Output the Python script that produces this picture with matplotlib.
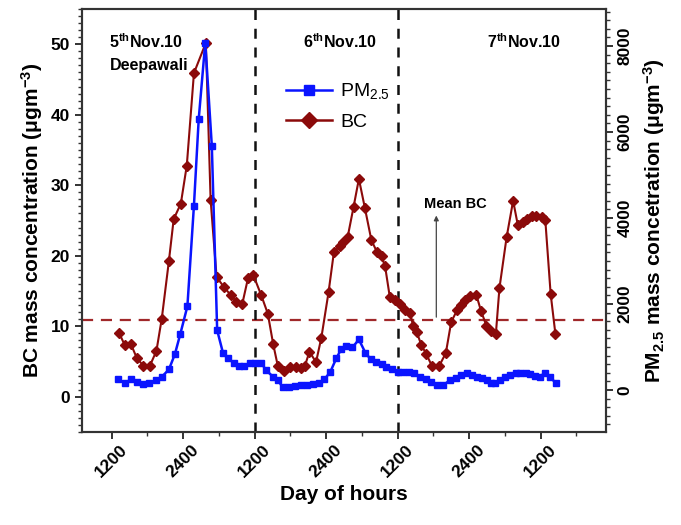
import matplotlib
matplotlib.use("Agg")
import matplotlib.pyplot as plt
from matplotlib.ticker import MultipleLocator, FixedLocator
from matplotlib.lines import Line2D

plt.rcParams['font.family'] = ['Liberation Sans', 'DejaVu Sans']
plt.rcParams['mathtext.fontset'] = 'custom'
plt.rcParams['mathtext.rm'] = 'Liberation Sans'
plt.rcParams['mathtext.bf'] = 'Liberation Sans:bold'
plt.rcParams['mathtext.it'] = 'Liberation Sans:italic'

# ---- data (hours from start of axis; BC in ug/m3; PM2.5 in ug/m3) ----
bc_hours = [13.2, 14.2, 15.2, 16.2, 17.3, 18.4, 19.5, 20.4, 21.6, 22.4, 23.6, 24.6, 25.8, 27.8,
            28.6, 29.6, 30.8, 32.0, 32.9, 33.9, 34.9, 35.8, 37.1, 38.2, 39.1, 39.9, 40.9, 41.9,
            42.9, 43.8, 44.4, 45.2, 46.3, 47.2, 48.4, 49.3, 50.3, 50.8, 51.6, 52.6, 53.5, 54.5,
            55.6, 56.5, 57.3, 57.9, 58.7, 59.6, 60.4, 61.2, 62.1, 62.6, 63.2, 64.0, 64.8, 65.8,
            67.0, 68.1, 69.0, 70.0, 70.7, 71.4, 72.2, 73.2, 74.0, 74.9, 75.7, 76.5, 77.1, 78.3,
            79.4, 80.2, 81.0, 81.7, 82.5, 83.3, 84.2, 84.8, 85.7, 86.5]
bc_values = [9.1, 7.3, 7.5, 5.5, 4.4, 4.4, 6.5, 11.1, 19.3, 25.2, 27.4, 32.8, 45.9, 50.2,
             27.9, 17.0, 15.6, 14.4, 13.5, 13.1, 16.9, 17.2, 14.4, 11.8, 7.5, 4.3, 3.6, 4.2,
             4.2, 4.1, 4.3, 6.4, 4.9, 8.4, 14.8, 20.5, 21.4, 21.9, 22.6, 26.9, 30.9, 26.8,
             22.2, 20.6, 19.9, 18.5, 14.1, 13.7, 13.1, 12.3, 11.9, 10.1, 9.2, 7.3, 6.1, 4.3,
             4.4, 6.2, 10.6, 12.3, 13.0, 13.7, 14.3, 14.5, 12.2, 10.1, 9.3, 8.9, 15.4, 22.6,
             27.8, 24.3, 24.8, 25.2, 25.6, 25.7, 25.5, 25.1, 14.6, 8.9]

pm_hours = [13.1, 14.2, 15.3, 16.3, 17.3, 18.3, 19.4, 20.4, 21.6, 22.6, 23.5, 24.7, 25.8, 26.6,
            27.7, 28.8, 29.7, 30.7, 31.5, 32.5, 33.4, 34.2, 35.2, 36.1, 37.1, 37.9, 39.1, 39.9,
            40.7, 41.7, 42.7, 43.8, 44.8, 45.8, 46.8, 47.7, 48.7, 49.7, 50.5, 51.4, 52.4, 53.5,
            54.6, 55.5, 56.4, 57.3, 58.1, 59.0, 60.0, 60.9, 61.9, 62.7, 63.7, 64.7, 65.6, 66.7,
            67.7, 68.8, 69.8, 70.7, 71.6, 72.5, 73.3, 74.2, 75.0, 75.7, 76.4, 77.2, 78.1, 78.9,
            79.8, 80.6, 81.5, 82.3, 83.1, 83.9, 84.7, 85.6, 86.6]
pm_values = [248, 169, 248, 192, 139, 169, 232, 308, 480, 835, 1299, 1948, 4290, 6300,
             8077, 5682, 1391, 851, 735, 633, 557, 557, 619, 633, 633, 464, 308, 232,
             63, 63, 93, 116, 116, 139, 155, 248, 424, 735, 944, 1020, 990, 1176,
             865, 712, 656, 603, 540, 480, 424, 424, 424, 387, 308, 248, 192, 116,
             116, 232, 271, 348, 387, 348, 308, 271, 232, 169, 155, 232, 308, 348,
             401, 401, 387, 371, 325, 308, 401, 308, 155]

mean_bc = 10.9
day_lines = [36, 60]
xtick_pos = [12, 24, 36, 48, 60, 72, 84]
xtick_labels = ['1200', '2400', '1200', '2400', '1200', '2400', '1200']

BC_COLOR = '#8B0A0A'
PM_COLOR = '#0A14FF'
SPINE = '#333333'

fig = plt.figure(figsize=(6.81, 5.25), dpi=100)
ax = fig.add_axes([0.1204, 0.1771, 0.7695, 0.8058])
ax2 = ax.twinx()

ax.set_xlim(7, 95)
ax.set_ylim(-5, 55)
ax2.set_ylim(-975, 8860)

ax.axhline(mean_bc, color='#A0282A', lw=1.6, ls=(0, (5, 3.5)), zorder=1)
for d in day_lines:
    ax.axvline(d, color='#111111', lw=1.8, ls=(0, (4, 3.5)), zorder=1)

ax.plot(bc_hours, bc_values, color=BC_COLOR, lw=1.5, marker='D', ms=5.5,
        mec=BC_COLOR, mfc=BC_COLOR, zorder=3)
ax2.plot(pm_hours, pm_values, color=PM_COLOR, lw=1.8, marker='s', ms=5,
         mec=PM_COLOR, mfc=PM_COLOR, zorder=3)

# ticks
ax.yaxis.set_major_locator(FixedLocator([0, 10, 20, 30, 40, 50]))
ax.yaxis.set_minor_locator(MultipleLocator(1))
ax2.yaxis.set_major_locator(FixedLocator([0, 2000, 4000, 6000, 8000]))
ax2.yaxis.set_minor_locator(MultipleLocator(200))
ax.xaxis.set_major_locator(FixedLocator(xtick_pos))
ax.xaxis.set_minor_locator(FixedLocator([18, 30, 42, 54, 66, 78, 90]))
ax.set_xticklabels(xtick_labels, rotation=45, ha='center', va='top',
                   rotation_mode='default', fontsize=12.5, fontweight='bold')

for a in (ax, ax2):
    a.tick_params(which='major', direction='out', length=5, width=1.4, color=SPINE)
    a.tick_params(which='minor', direction='out', length=3, width=1.0, color=SPINE)
    for s in a.spines.values():
        s.set_color(SPINE)
        s.set_linewidth(1.5)
ax.tick_params(axis='y', labelsize=12.5)
ax2.tick_params(axis='y', labelsize=12.5)
for lbl in ax.get_yticklabels() + ax2.get_yticklabels():
    lbl.set_fontweight('bold')
ax2.set_yticklabels(['0', '2000', '4000', '6000', '8000'], rotation=90, va='center',
                    fontsize=12.5, fontweight='bold')
ax.tick_params(axis='x', pad=2)

ax.set_xlabel('Day of hours', fontsize=15, fontweight='bold', labelpad=4)
ax.set_ylabel(r'BC mass concentration (μgm$^{\mathbf{-3}}$)', fontsize=15,
              fontweight='bold', labelpad=4)
ax2.set_ylabel(r'PM$_{\mathbf{2.5}}$ mass concetration (μgm$^{\mathbf{-3}}$)', fontsize=15,
               fontweight='bold', rotation=90, labelpad=6)

# annotations
ax.text(11.6, 50.4, r'5$^{\mathbf{th}}$Nov.10', fontsize=11.5, fontweight='bold',
        ha='left', va='center')
ax.text(11.6, 47.0, 'Deepawali', fontsize=11.5, fontweight='bold', ha='left', va='center')
ax.text(50.3, 50.4, r'6$^{\mathbf{th}}$Nov.10', fontsize=11.5, fontweight='bold',
        ha='center', va='center')
ax.text(81.2, 50.4, r'7$^{\mathbf{th}}$Nov.10', fontsize=11.5, fontweight='bold',
        ha='center', va='center')
ax.text(69.7, 27.4, 'Mean BC', fontsize=10.5, fontweight='bold', ha='center', va='center')
ax.annotate('', xy=(66.5, 26.1), xytext=(66.5, mean_bc),
            arrowprops=dict(arrowstyle='-|>', color='#444444', lw=0.9,
                            mutation_scale=7))

handles = [Line2D([], [], color=PM_COLOR, lw=1.8, marker='s', ms=7),
           Line2D([], [], color=BC_COLOR, lw=1.8, marker='D', ms=8)]
ax2.legend(handles, [r'PM$_{2.5}$', 'BC'], loc='upper left',
           bbox_to_anchor=(0.355, 0.87), frameon=False, fontsize=14,
           handlelength=2.4, labelspacing=0.6, handletextpad=0.4)

fig.savefig('out.png', dpi=100)
